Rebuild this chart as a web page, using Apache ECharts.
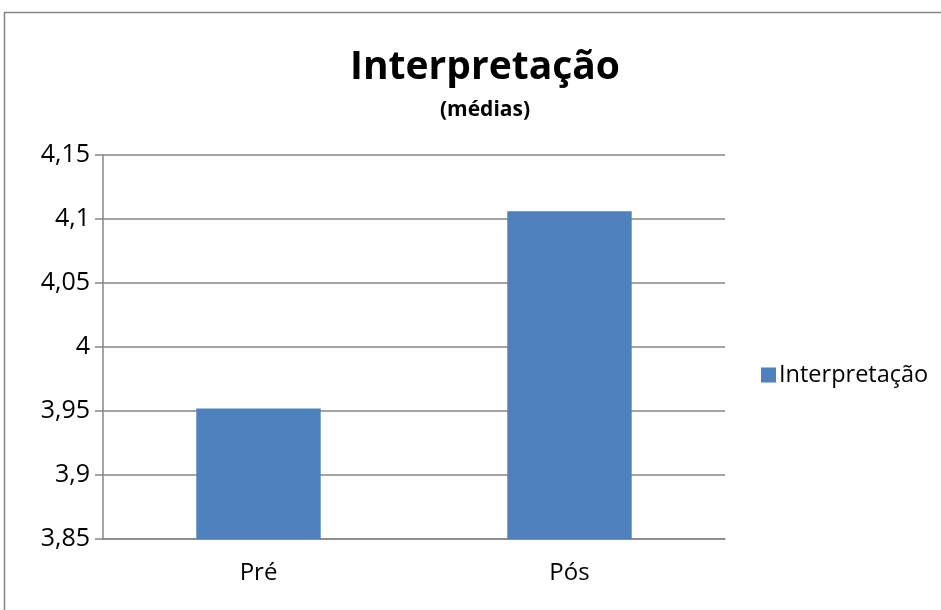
<!DOCTYPE html>
<html>
<head>
<meta charset="utf-8">
<script src="https://cdn.jsdelivr.net/npm/echarts@6/dist/echarts.min.js"></script>
<style>
  html, body { margin: 0; padding: 0; background: #fff; }
  #main { width: 941px; height: 610px; }
</style>
</head>
<body>
<div id="main"></div>
<script>
// dados do gráfico
let categorias = ['Pré', 'Pós']
let medias = [3.952, 4.106]
let nomeSerie = 'Interpretação'

let fonte = '"Open Sans", "Noto Sans", sans-serif'
let cinza = '#868686'

let myChart = echarts.init(document.getElementById('main'))

var option = {
  animation: false,
  backgroundColor: '#fff',
  textStyle: { fontFamily: fonte },
  graphic: [{
    type: 'rect',
    shape: { x: 4.5, y: 12.5, width: 1000, height: 700 },
    style: { fill: 'none', stroke: cinza, lineWidth: 1.5 },
    silent: true
  }],
  title: {
    text: 'Interpretação',
    subtext: '(médias)',
    left: 480,
    textAlign: 'center',
    top: 43,
    itemGap: 13,
    textStyle: { fontFamily: fonte, fontSize: 39, fontWeight: 'bold', color: '#000' },
    subtextStyle: { fontFamily: fonte, fontSize: 21, fontWeight: 'bold', color: '#000' }
  },
  legend: {
    data: [nomeSerie],
    orient: 'vertical',
    left: 756,
    top: 358,
    icon: 'rect',
    itemWidth: 15,
    itemHeight: 15,
    itemGap: 6,
    textStyle: { fontFamily: fonte, fontSize: 23.5, color: '#000', padding: [0, 0, 0, -2] }
  },
  grid: { left: 103, right: 216, top: 155, bottom: 71 },
  xAxis: {
    type: 'category',
    data: categorias,
    axisLine: { lineStyle: { color: cinza, width: 1.5 } },
    axisTick: { length: 6, lineStyle: { color: cinza, width: 1.5 } },
    axisLabel: { fontFamily: fonte, fontSize: 24, color: '#000', margin: 22 }
  },
  yAxis: {
    type: 'value',
    min: 3.85,
    max: 4.15,
    interval: 0.05,
    axisLine: { show: true, lineStyle: { color: cinza, width: 1.5 } },
    axisTick: { show: true, length: 8, lineStyle: { color: cinza, width: 1.5 } },
    splitLine: { lineStyle: { color: cinza, width: 1.5 } },
    axisLabel: {
      fontFamily: fonte, fontSize: 25, color: '#000', margin: 13,
      formatter: function(v) {
        return String(Math.round(v * 100) / 100).replace('.', ',')
      }
    }
  },
  series: [{
    name: nomeSerie,
    type: 'bar',
    data: medias,
    barWidth: '40%',
    itemStyle: { color: '#4F81BD' }
  }]
}

myChart.setOption(option)
</script>
</body>
</html>
